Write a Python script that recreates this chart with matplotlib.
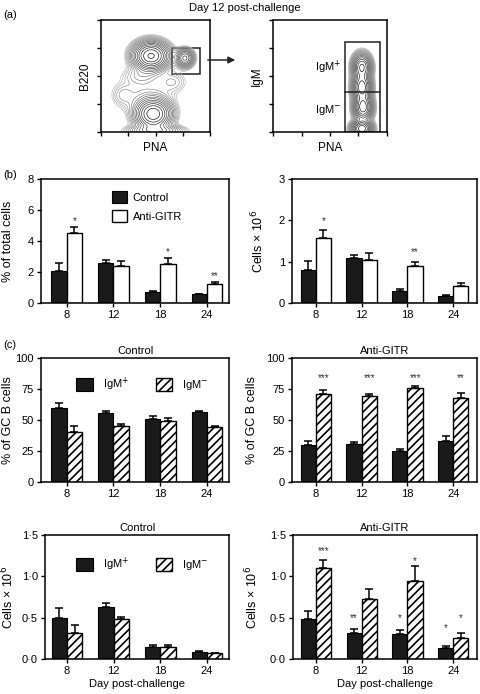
import numpy as np
import matplotlib
matplotlib.use("Agg")
import matplotlib.pyplot as plt
from matplotlib.patches import Rectangle

plt.rcParams['font.family'] = ['Liberation Sans', 'DejaVu Sans']
plt.rcParams['hatch.linewidth'] = 1.2
plt.rcParams['axes.linewidth'] = 1.1

W, H = 480, 694
fig = plt.figure(figsize=(W / 100, H / 100), dpi=100)

# ---------------- data ----------------
days = ['8', '12', '18', '24']

b_pct_ctrl = [2.05, 2.55, 0.70, 0.55]
b_pct_ctrl_err = [0.55, 0.25, 0.05, 0.03]
b_pct_anti = [4.50, 2.40, 2.50, 1.25]
b_pct_anti_err = [0.38, 0.30, 0.40, 0.10]
b_pct_stars = [(0, '*', 5.3), (2, '*', 3.3), (3, '**', 1.75)]

b_cells_ctrl = [0.80, 1.10, 0.30, 0.17]
b_cells_ctrl_err = [0.22, 0.07, 0.05, 0.02]
b_cells_anti = [1.57, 1.05, 0.90, 0.40]
b_cells_anti_err = [0.20, 0.15, 0.10, 0.08]
b_cells_stars = [(0, '*', 1.98), (2, '**', 1.23)]

c_pct_ctrl_pos = [60.0, 55.5, 51.0, 56.5]
c_pct_ctrl_pos_err = [3.5, 1.5, 2.0, 1.0]
c_pct_ctrl_neg = [40.5, 45.5, 49.5, 44.0]
c_pct_ctrl_neg_err = [4.5, 1.5, 2.5, 1.5]

c_pct_anti_pos = [29.5, 31.0, 25.0, 33.0]
c_pct_anti_pos_err = [3.5, 1.5, 2.0, 4.0]
c_pct_anti_neg = [71.0, 69.5, 75.5, 67.5]
c_pct_anti_neg_err = [3.5, 1.5, 2.0, 4.0]
c_pct_anti_stars = [(0.17, '***', 84), (1.17, '***', 84), (2.17, '***', 84), (3.17, '**', 84)]

c_cells_ctrl_pos = [0.49, 0.63, 0.15, 0.09]
c_cells_ctrl_pos_err = [0.13, 0.05, 0.025, 0.008]
c_cells_ctrl_neg = [0.31, 0.48, 0.14, 0.07]
c_cells_ctrl_neg_err = [0.10, 0.025, 0.03, 0.007]

c_cells_anti_pos = [0.48, 0.31, 0.30, 0.13]
c_cells_anti_pos_err = [0.10, 0.05, 0.05, 0.03]
c_cells_anti_neg = [1.10, 0.73, 0.94, 0.26]
c_cells_anti_neg_err = [0.10, 0.12, 0.19, 0.06]
c_cells_anti_stars = [(0.17, '***', 1.31), (0.83, '**', 0.49), (1.83, '*', 0.49),
                      (2.17, '*', 1.18), (2.83, '*', 0.37), (3.17, '*', 0.49)]

# flow-cytometry contour blobs: (x, y, sx, sy, amplitude)
flow_left_blobs = [(0.46, 0.68, 0.09, 0.07, 1.0), (0.77, 0.66, 0.045, 0.045, 0.5),
                   (0.48, 0.16, 0.09, 0.075, 0.9), (0.40, 0.33, 0.17, 0.11, 0.06),
                   (0.20, 0.33, 0.06, 0.06, 0.05), (0.66, 0.45, 0.08, 0.06, 0.06),
                   (0.36, 0.50, 0.10, 0.05, 0.07), (0.50, 0.01, 0.14, 0.03, 0.3)]
flow_right_blobs = [(0.78, 0.58, 0.045, 0.065, 0.8), (0.78, 0.40, 0.045, 0.065, 0.9),
                    (0.79, 0.22, 0.045, 0.065, 0.9), (0.78, 0.03, 0.05, 0.04, 0.9)]
gate_left = (0.65, 0.52, 0.26, 0.23)
gate_right = (0.63, 0.0, 0.31, 0.80)
gate_right_split = 0.36


def add_ax(x0, y0, x1, y1):
    return fig.add_axes([x0 / W, 1 - y1 / H, (x1 - x0) / W, (y1 - y0) / H])


def fig_text(x, y, s, **kw):
    fig.text(x / W, 1 - y / H, s, **kw)


# ---------------- panel (a) ----------------
fig_text(245, 8, 'Day 12 post-challenge', ha='center', va='center', fontsize=8)
fig_text(3, 15, '(a)', ha='left', va='center', fontsize=8)

gx, gy = np.meshgrid(np.linspace(0, 1, 300), np.linspace(0, 1, 300))


def density(blobs):
    d = np.zeros_like(gx)
    for (cx, cy, sx, sy, a) in blobs:
        d += a * np.exp(-((gx - cx) ** 2 / (2 * sx ** 2) + (gy - cy) ** 2 / (2 * sy ** 2)))
    return d


n_levels = 16
levels = np.geomspace(0.025, 0.95, n_levels)
level_colors = [plt.cm.Greys(v) for v in np.linspace(0.3, 1.0, n_levels) ** 0.8]

for (rect, blobs, ylab) in [((101, 20, 210, 132), flow_left_blobs, 'B220'),
                            ((273, 20, 387, 132), flow_right_blobs, 'IgM')]:
    ax = add_ax(*rect)
    d = density(blobs)
    ax.contour(gx, gy, d, levels=levels, colors=level_colors, linewidths=0.45)
    ax.set_xlim(0, 1)
    ax.set_ylim(0, 1)
    ax.set_xticks(np.linspace(0, 1, 5))
    ax.set_yticks(np.linspace(0, 1, 5))
    ax.tick_params(direction='out', length=3, width=1, labelbottom=False, labelleft=False)
    ax.set_xlabel('PNA', fontsize=8.5, labelpad=4)
    ax.set_ylabel(ylab, fontsize=8.5, labelpad=4)
    if ylab == 'B220':
        ax.add_patch(Rectangle(gate_left[:2], gate_left[2], gate_left[3],
                               fill=False, lw=1.1, ec='#222222'))
    else:
        ax.add_patch(Rectangle(gate_right[:2], gate_right[2], gate_right[3],
                               fill=False, lw=1.1, ec='#222222'))
        ax.plot([gate_right[0], gate_right[0] + gate_right[2]],
                [gate_right_split, gate_right_split], color='#222222', lw=1.1)
        ax.text(0.48, 0.58, 'IgM$^{+}$', ha='center', va='center', fontsize=8)
        ax.text(0.48, 0.20, 'IgM$^{-}$', ha='center', va='center', fontsize=8)

fig.add_artist(matplotlib.patches.FancyArrowPatch(
    (205 / W, 1 - 60 / H), (238 / W, 1 - 60 / H), transform=fig.transFigure,
    arrowstyle='-|>', mutation_scale=10, lw=1.1, color='#222222'))


# ---------------- bar helpers ----------------
BW = 0.33


def style_bar_ax(ax, ylim, yticks, yticklabels, xlim):
    ax.set_xlim(*xlim)
    ax.set_ylim(*ylim)
    ax.set_yticks(yticks)
    ax.set_yticklabels(yticklabels, fontsize=8)
    ax.set_xticks(range(len(days)))
    ax.set_xticklabels(days, fontsize=8)
    ax.tick_params(direction='out', length=3, width=1, pad=2)


def draw_pair(ax, v1, e1, v2, e2, style2, lab1, lab2):
    x = np.arange(len(days))
    ekw = dict(elinewidth=1.1, capthick=1.1, ecolor='black')
    b1 = ax.bar(x - BW / 2, v1, BW, color='#1a1a1a', edgecolor='black', lw=0.8,
                yerr=[np.zeros(len(e1)), e1], capsize=3, error_kw=ekw, label=lab1)
    hatch = None if style2 == 'white' else '////'
    b2 = ax.bar(x + BW / 2, v2, BW, color='white', edgecolor='black', lw=1.0,
                hatch=hatch, yerr=[np.zeros(len(e2)), e2], capsize=3,
                error_kw=ekw, label=lab2)
    return b1, b2


def stars(ax, items, group_offset=True):
    for (xi, s, yv) in items:
        ax.text(xi + (BW / 2 if group_offset else 0), yv, s, ha='center', va='center',
                fontsize=7, color='#333333')


def set_ylabel_at(ax, label, xpix, rect):
    ax.set_ylabel(label, fontsize=9)
    x0, y0, x1, y1 = rect
    ax.yaxis.set_label_coords((xpix - x0) / (x1 - x0), 0.5)


# ---------------- panel (b) ----------------
fig_text(3, 175, '(b)', ha='left', va='center', fontsize=8)

r = (41, 179, 229, 303)
ax = add_ax(*r)
b1, b2 = draw_pair(ax, b_pct_ctrl, b_pct_ctrl_err, b_pct_anti, b_pct_anti_err,
                   'white', 'Control', 'Anti-GITR')
style_bar_ax(ax, (0, 8), [0, 2, 4, 6, 8], ['0', '2', '4', '6', '8'], (-0.55, 3.47))
set_ylabel_at(ax, '% of total cells', 14, r)
stars(ax, b_pct_stars)
ax.legend(handles=[b1, b2], loc='upper left', bbox_to_anchor=(112 / W, 1 - 191 / H),
          bbox_transform=fig.transFigure, frameon=False, fontsize=8, borderpad=0,
          handlelength=1.35, handleheight=1.35, handletextpad=0.5, labelspacing=0.55,
          borderaxespad=0)

r = (292, 179, 477, 303)
ax = add_ax(*r)
draw_pair(ax, b_cells_ctrl, b_cells_ctrl_err, b_cells_anti, b_cells_anti_err,
          'white', 'Control', 'Anti-GITR')
style_bar_ax(ax, (0, 3), [0, 1, 2, 3], ['0', '1', '2', '3'], (-0.52, 3.52))
set_ylabel_at(ax, 'Cells \u00d7 10$^{6}$', 266, r)
stars(ax, b_cells_stars)

# ---------------- panel (c) ----------------
fig_text(3, 345, '(c)', ha='left', va='center', fontsize=8)
pct_ticks = [0, 25, 50, 75, 100]
cell_ticks = [0.0, 0.5, 1.0, 1.5]
cell_labels = ['0\u00b70', '0\u00b75', '1\u00b70', '1\u00b75']
lab_pos, lab_neg = 'IgM$^{+}$', 'IgM$^{-}$'


def c_legend(ax, h, ytop):
    ax.legend(handles=h, loc='upper left', bbox_to_anchor=(76 / W, 1 - ytop / H),
              bbox_transform=fig.transFigure, frameon=False, fontsize=8, borderpad=0,
              ncol=2, handlelength=1.5, handleheight=1.4, handletextpad=0.9,
              columnspacing=2.4, borderaxespad=0)


r = (41, 358, 229, 482)
ax = add_ax(*r)
h = draw_pair(ax, c_pct_ctrl_pos, c_pct_ctrl_pos_err, c_pct_ctrl_neg, c_pct_ctrl_neg_err,
              'hatch', lab_pos, lab_neg)
style_bar_ax(ax, (0, 100), pct_ticks, [str(t) for t in pct_ticks], (-0.55, 3.47))
set_ylabel_at(ax, '% of GC B cells', 14, r)
ax.set_title('Control', fontsize=8, pad=3)
c_legend(ax, h, 376)

r = (292, 358, 477, 482)
ax = add_ax(*r)
draw_pair(ax, c_pct_anti_pos, c_pct_anti_pos_err, c_pct_anti_neg, c_pct_anti_neg_err,
          'hatch', lab_pos, lab_neg)
style_bar_ax(ax, (0, 100), pct_ticks, [str(t) for t in pct_ticks], (-0.52, 3.52))
set_ylabel_at(ax, '% of GC B cells', 258, r)
ax.set_title('Anti-GITR', fontsize=8, pad=3)
stars(ax, c_pct_anti_stars, group_offset=False)

r = (45, 535, 229, 659)
ax = add_ax(*r)
h = draw_pair(ax, c_cells_ctrl_pos, c_cells_ctrl_pos_err, c_cells_ctrl_neg,
              c_cells_ctrl_neg_err, 'hatch', lab_pos, lab_neg)
style_bar_ax(ax, (0, 1.5), cell_ticks, cell_labels, (-0.47, 3.47))
set_ylabel_at(ax, 'Cells \u00d7 10$^{6}$', 16, r)
ax.set_title('Control', fontsize=8, pad=3)
ax.set_xlabel('Day post-challenge', fontsize=8, labelpad=2)
c_legend(ax, h, 556)

r = (293, 535, 477, 659)
ax = add_ax(*r)
draw_pair(ax, c_cells_anti_pos, c_cells_anti_pos_err, c_cells_anti_neg,
          c_cells_anti_neg_err, 'hatch', lab_pos, lab_neg)
style_bar_ax(ax, (0, 1.5), cell_ticks, cell_labels, (-0.5, 3.52))
set_ylabel_at(ax, 'Cells \u00d7 10$^{6}$', 260, r)
ax.set_title('Anti-GITR', fontsize=8, pad=3)
ax.set_xlabel('Day post-challenge', fontsize=8, labelpad=2)
stars(ax, c_cells_anti_stars, group_offset=False)

fig.savefig('out.png', dpi=100)
